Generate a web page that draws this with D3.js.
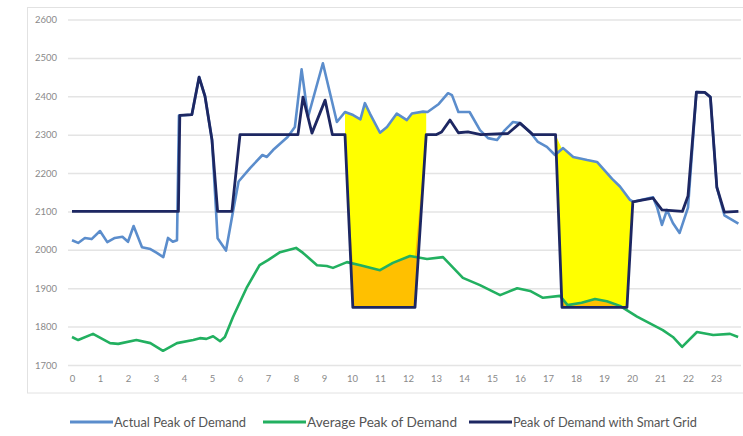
<!DOCTYPE html>
<html>
<head>
<meta charset="utf-8">
<script src="https://cdn.jsdelivr.net/npm/d3@7"></script>
<style>
  html, body { margin: 0; padding: 0; background: #ffffff; }
  svg { display: block; }
</style>
</head>
<body>
<svg id="chart" width="743" height="436"></svg>
<script>
// Hour of day (x) and demand (y) for each series
const actualHours  = [0,0.22,0.46,0.7,1.0,1.26,1.53,1.8,2.0,2.2,2.5,2.8,3.03,3.26,3.43,3.6,3.75,3.82,4.28,4.54,4.75,5.0,5.2,5.5,5.75,5.95,6.36,6.8,6.96,7.18,7.5,7.7,7.96,8.2,8.43,8.96,9.46,9.75,10.04,10.3,10.46,10.64,11.0,11.25,11.6,11.96,12.14,12.54,12.7,13.1,13.43,13.57,13.8,14.2,14.57,14.86,15.18,15.46,15.75,16.0,16.36,16.64,16.96,17.25,17.54,17.9,18.4,18.75,19.29,19.57,19.93,20.05,20.75,20.9,21.07,21.25,21.46,21.7,22.0,22.3,22.6,22.8,23.03,23.3,23.8];
const actualValues = [2025,2018,2031,2028,2049,2020,2031,2034,2021,2062,2007,2002,1992,1981,2031,2021,2025,2350,2352,2450,2400,2286,2030,1998,2100,2178,2213,2247,2242,2260,2281,2294,2320,2470,2346,2486,2333,2359,2351,2340,2382,2355,2305,2320,2355,2338,2355,2360,2359,2380,2408,2403,2359,2359,2312,2291,2286,2312,2333,2330,2307,2281,2268,2247,2265,2242,2234,2229,2185,2165,2130,2125,2137,2110,2065,2104,2070,2044,2110,2411,2410,2398,2163,2090,2068];

const averageHours  = [0,0.22,0.75,1.36,1.65,2.3,2.8,3.25,3.75,4.33,4.57,4.8,5.04,5.29,5.46,5.75,6.25,6.7,7.0,7.43,8.0,8.25,8.75,9.1,9.32,9.82,10.3,11.0,11.46,12.07,12.68,13.25,13.96,14.57,14.93,15.29,15.9,16.36,16.82,17.43,17.7,18.2,18.68,19.1,19.57,20.18,21.1,21.46,21.79,22.32,22.9,23.5,23.79];
const averageValues = [1773,1765,1781,1757,1755,1765,1757,1737,1757,1765,1770,1768,1775,1762,1773,1825,1903,1960,1973,1994,2005,1992,1960,1958,1953,1968,1960,1947,1966,1984,1976,1981,1927,1908,1895,1882,1900,1893,1875,1880,1856,1862,1872,1866,1854,1826,1791,1773,1747,1786,1778,1781,1773];

const smartHours  = [0,3.8,3.85,4.28,4.54,4.75,5.0,5.2,5.71,6.0,8.07,8.25,8.57,9.04,9.3,9.75,10.03,12.25,12.65,13.0,13.2,13.5,13.8,14.14,14.6,15.57,16.0,16.46,17.27,17.5,19.82,20.03,20.4,20.75,21.07,21.8,22.0,22.3,22.6,22.8,23.03,23.3,23.8];
const smartValues = [2100,2100,2350,2352,2450,2400,2286,2100,2100,2300,2300,2398,2304,2390,2300,2300,1850,1850,2300,2300,2307,2338,2305,2307,2300,2303,2330,2300,2300,1850,1850,2125,2130,2135,2104,2100,2140,2411,2410,2398,2163,2098,2100];

// Hours where demand is shifted away by the smart grid
const shiftSpans = [[9.75, 12.65], [17.27, 20.03]];

const hourTicks   = d3.range(0, 24);
const demandTicks = [1700, 1800, 1900, 2000, 2100, 2200, 2300, 2400, 2500, 2600];

const seriesNames = ["Actual Peak of Demand", "Average Peak of Demand", "Peak of Demand with Smart Grid"];
const colors = {
  actual: "#5b8dcc",
  average: "#22b060",
  smart: "#1d2762",
  shifted: "#ffff00",
  base: "#ffc000",
  grid: "#e4e4e4",
  text: "#8a8a8a",
  legend: "#555555",
  frame: "#e2e2e2"
};

const svg = d3.select("#chart");

const x = d3.scaleLinear().domain([0, 24]).range([72, 744]);
const y = d3.scaleLinear().domain([1700, 2600]).range([365, 19.5]);

// Light frame around the plot
svg.append("rect")
  .attr("x", 27.5).attr("y", 7.5)
  .attr("width", 740).attr("height", 385.5)
  .attr("fill", "none").attr("stroke", colors.frame).attr("stroke-width", 1);

// Horizontal gridlines and demand labels
const yAxis = d3.axisLeft(y).tickValues(demandTicks).tickSize(-(741 - 68)).tickPadding(10).tickFormat(d3.format("d"));
const gy = svg.append("g").attr("transform", "translate(68,0)").call(yAxis);
gy.select(".domain").remove();
gy.selectAll(".tick line").attr("stroke", colors.grid).attr("stroke-width", 1.5);
gy.selectAll(".tick text")
  .attr("fill", colors.text)
  .attr("font-family", "Lato, 'Open Sans', sans-serif")
  .attr("font-size", 9.5)
  .attr("x", -11);

// Hour labels
const xAxis = d3.axisBottom(x).tickValues(hourTicks).tickSize(0).tickPadding(10).tickFormat(d3.format("d"));
const gx = svg.append("g").attr("transform", "translate(0,365)").call(xAxis);
gx.select(".domain").remove();
gx.selectAll(".tick text")
  .attr("fill", colors.text)
  .attr("font-family", "Lato, 'Open Sans', sans-serif")
  .attr("font-size", 9.5);

function toPoints(hs, vs) { return hs.map((h, i) => [h, vs[i]]); }

function interp(hs, vs, h) {
  if (h <= hs[0]) return vs[0];
  if (h >= hs[hs.length - 1]) return vs[vs.length - 1];
  const i = d3.bisectRight(hs, h);
  const h0 = hs[i - 1], h1 = hs[i];
  const t = (h - h0) / (h1 - h0);
  return vs[i - 1] + t * (vs[i] - vs[i - 1]);
}

// Band between an upper series and the smart-grid curve, within one span
function band(span, upHours, upValues) {
  const [a, b] = span;
  const hs = Array.from(new Set([a, b]
    .concat(upHours.filter(h => h > a && h < b))
    .concat(smartHours.filter(h => h > a && h < b)))).sort((p, q) => p - q);
  return hs.map(h => {
    const lo = interp(smartHours, smartValues, h);
    const hi = Math.max(lo, interp(upHours, upValues, h));
    return { h, lo, hi };
  });
}

const area = d3.area().x(d => x(d.h)).y0(d => y(d.lo)).y1(d => y(d.hi));

const fills = svg.append("g");
shiftSpans.forEach(span => {
  fills.append("path").attr("d", area(band(span, actualHours, actualValues)))
    .attr("fill", colors.shifted);
});
shiftSpans.forEach(span => {
  fills.append("path").attr("d", area(band(span, averageHours, averageValues)))
    .attr("fill", colors.base);
});

const line = d3.line().x(d => x(d[0])).y(d => y(d[1]));

svg.append("path").attr("d", line(toPoints(averageHours, averageValues)))
  .attr("fill", "none").attr("stroke", colors.average).attr("stroke-width", 2.6)
  .attr("stroke-linejoin", "round");

svg.append("path").attr("d", line(toPoints(actualHours, actualValues)))
  .attr("fill", "none").attr("stroke", colors.actual).attr("stroke-width", 2.6)
  .attr("stroke-linejoin", "round");

svg.append("path").attr("d", line(toPoints(smartHours, smartValues)))
  .attr("fill", "none").attr("stroke", colors.smart).attr("stroke-width", 2.8)
  .attr("stroke-linejoin", "round");

// Legend
const legendItems = [
  { name: seriesNames[0], color: colors.actual, x0: 70, w: 132 },
  { name: seriesNames[1], color: colors.average, x0: 263, w: 150 },
  { name: seriesNames[2], color: colors.smart, x0: 469, w: 184 }
];
const lg = svg.append("g");
legendItems.forEach(it => {
  lg.append("line")
    .attr("x1", it.x0).attr("x2", it.x0 + 43)
    .attr("y1", 422).attr("y2", 422)
    .attr("stroke", it.color).attr("stroke-width", 3);
  lg.append("text")
    .attr("x", it.x0 + 44).attr("y", 426.5)
    .attr("fill", colors.legend)
    .attr("font-family", "Lato, 'Open Sans', sans-serif")
    .attr("font-size", 12.5)
    .attr("textLength", it.w)
    .attr("lengthAdjust", "spacingAndGlyphs")
    .text(it.name);
});
</script>
</body>
</html>
